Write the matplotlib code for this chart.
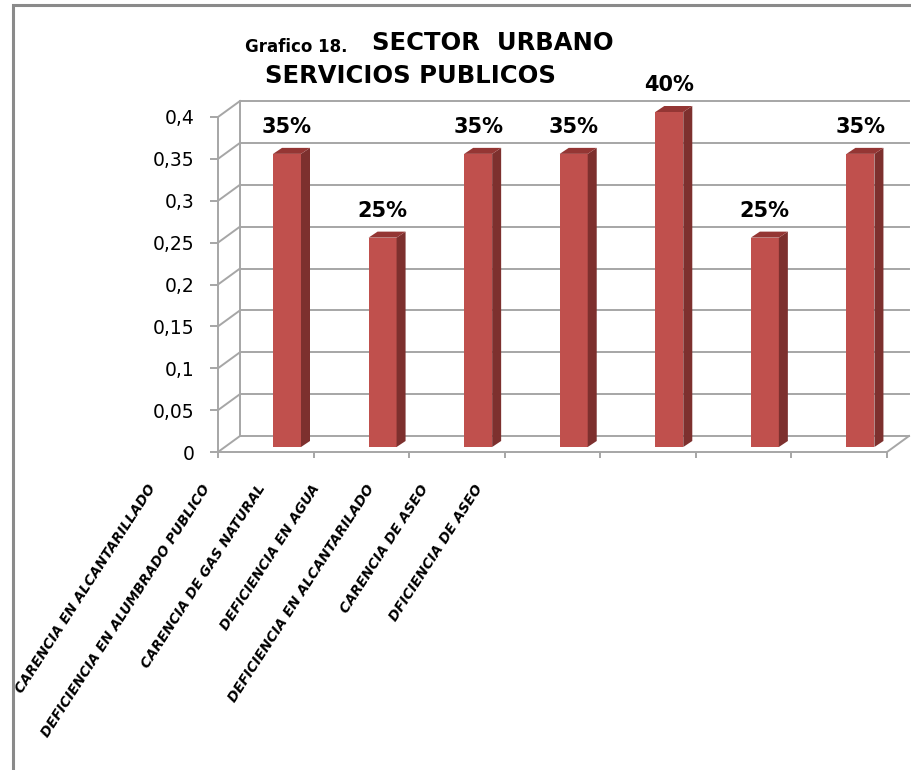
import numpy as np
import matplotlib
matplotlib.use("Agg")
import matplotlib.pyplot as plt
from matplotlib.patches import Polygon, Rectangle

categorias = ["CARENCIA EN ALCANTARILLADO", "DEFICIENCIA EN ALUMBRADO PUBLICO",
              "CARENCIA DE GAS NATURAL", "DEFICIENCIA EN AGUA",
              "DEFICIENCIA EN ALCANTARILADO", "CARENCIA DE ASEO", "DFICIENCIA DE ASEO"]
valores = [0.35, 0.25, 0.35, 0.35, 0.40, 0.25, 0.35]
etiquetas = ["35%", "25%", "35%", "35%", "40%", "25%", "35%"]
yticks = [0, 0.05, 0.1, 0.15, 0.2, 0.25, 0.3, 0.35, 0.4]

W, H = 912, 770
fig = plt.figure(figsize=(W / 100, H / 100), dpi=100)
fig.patch.set_facecolor("white")

# marco del grafico
fig.add_artist(Rectangle((13 / W, -0.02), 1.1, (H - 5) / H + 0.02, transform=fig.transFigure,
                         fill=False, ec="#8a8a8a", lw=2.2))

x0, x1, y0, y1 = 218, 887, 452, 117
ax = fig.add_axes([x0 / W, (H - y0) / H, (x1 - x0) / W, (y0 - y1) / H])
n = len(categorias)
ax.set_xlim(0, n)
ax.set_ylim(0, 0.4)
pxx = (x1 - x0) / n
pxy = (y0 - y1) / 0.4
DX = 22 / pxx
DY = 16 / pxy

grid = "#a6a6a6"
for v in yticks:
    ax.plot([DX, n + DX], [v + DY, v + DY], color=grid, lw=1.4, clip_on=False, zorder=1)
    ax.plot([0, DX], [v, v + DY], color=grid, lw=1.4, clip_on=False, zorder=1)
ax.plot([DX, DX], [DY, 0.4 + DY], color=grid, lw=1.4, clip_on=False, zorder=1)
ax.plot([n, n + DX], [0, DY], color=grid, lw=1.4, clip_on=False, zorder=1)

# barras 3d
front, side, top = "#c0504d", "#7d302e", "#943634"
bw = 28 / pxx
sx, sy = 9 / pxx, 6 / pxy
base = 5 / pxy
for i, v in enumerate(valores):
    l = i + 55 / pxx
    r = l + bw
    t = base + v
    ax.add_patch(Rectangle((l, base), bw, v, fc=front, ec="none", zorder=3, clip_on=False))
    ax.add_patch(Polygon([(r, base), (r + sx, base + sy), (r + sx, t + sy), (r, t)],
                         fc=side, ec="none", zorder=3, clip_on=False))
    ax.add_patch(Polygon([(l, t), (r, t), (r + sx, t + sy), (l + sx, t + sy)],
                         fc=top, ec="none", zorder=3, clip_on=False))
    ax.text((l + r) / 2, t + 21 / pxy, etiquetas[i], ha="center", va="baseline",
            fontsize=15, fontweight="bold", color="black", zorder=4, clip_on=False)

ax.set_facecolor("none")
for s in ["top", "right"]:
    ax.spines[s].set_visible(False)
for s in ["left", "bottom"]:
    ax.spines[s].set_color(grid)
    ax.spines[s].set_linewidth(1.4)

ax.set_yticks(yticks)
ax.set_yticklabels([f"{v:g}".replace(".", ",") for v in yticks])
ax.set_xticks(np.arange(n + 1))
ax.set_xticklabels([])
ax.tick_params(axis="y", length=6, width=1.4, color=grid, labelsize=13.5, pad=11)
ax.tick_params(axis="x", length=4, width=1.4, color=grid)

for i, c in enumerate(categorias):
    xpx = 153 + 54.5 * i
    ax.text((xpx - x0) / pxx, (y0 - 486) / pxy, c, rotation=57, rotation_mode="anchor",
            ha="right", va="center", fontsize=9.9, fontweight="bold", fontstyle="italic",
            clip_on=False)

fig.text(245 / W, (H - 52) / H, "Grafico 18.", fontsize=12, fontweight="bold", va="baseline")
fig.text(372 / W, (H - 50) / H, "SECTOR  URBANO", fontsize=17.5, fontweight="bold", va="baseline")
fig.text(265 / W, (H - 83) / H, "SERVICIOS PUBLICOS", fontsize=17.5, fontweight="bold", va="baseline")

fig.savefig("out.png", dpi=100)
